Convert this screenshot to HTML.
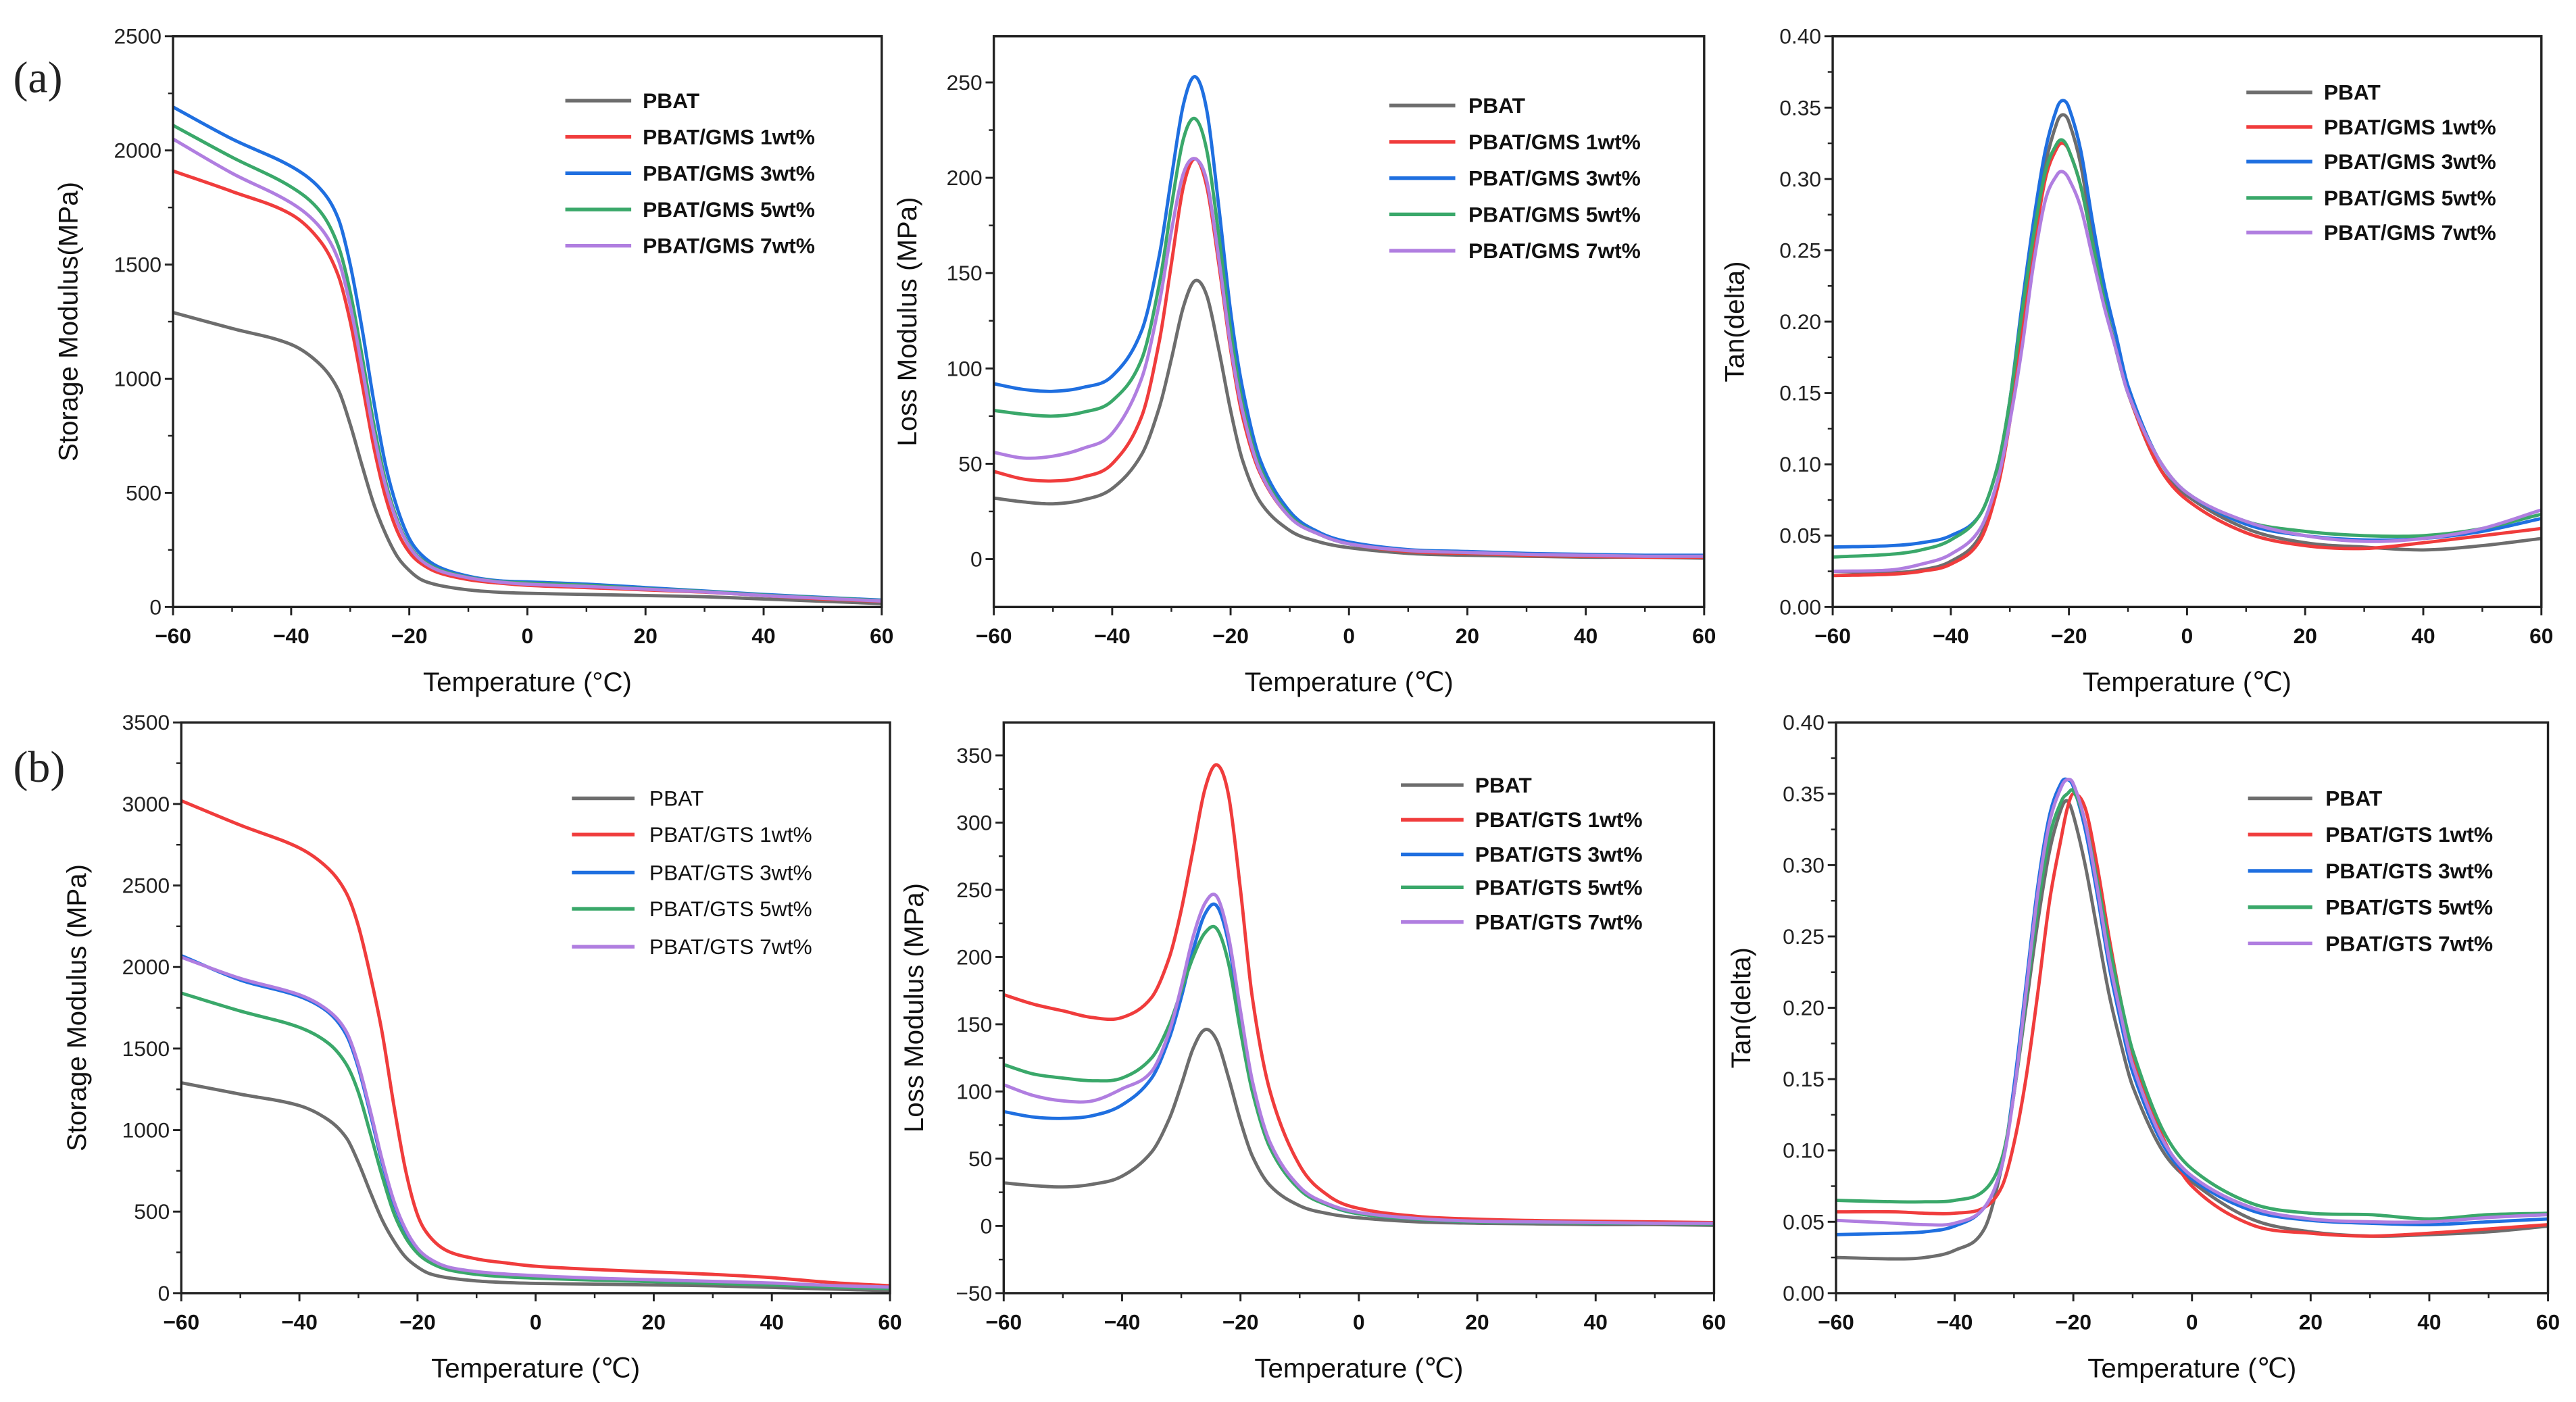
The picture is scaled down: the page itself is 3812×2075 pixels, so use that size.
<!DOCTYPE html>
<html><head><meta charset="utf-8"><style>
html,body{margin:0;padding:0;background:#fff;}
svg{display:block;}
text{font-family:"Liberation Sans",sans-serif;}
</style></head><body>
<svg id="fig" width="3812" height="2075" viewBox="0 0 1563 850" preserveAspectRatio="none" xmlns="http://www.w3.org/2000/svg">
<rect x="0" y="0" width="1563" height="850" fill="#fff"/>
<text x="8" y="56" font-family="Liberation Serif,serif" font-size="27" fill="#222" style="font-family:'Liberation Serif',serif">(a)</text>
<text x="8" y="474" font-size="27" fill="#222" style="font-family:'Liberation Serif',serif">(b)</text>
</svg>
<script>
const SX = [-60,-50,-40,-35,-32,-30,-28,-26,-24,-22,-20,-18,-15,-10,-5,0,10,20,30,40,50,60];
const LX = [-60,-55,-50,-45,-40,-35,-32,-30,-28,-26,-24,-22,-20,-18,-15,-10,-5,0,10,20,30,40,50,60];
const TX = [-60,-50,-45,-40,-35,-32,-30,-28,-26,-24,-22,-21,-20,-18,-16,-14,-12,-10,-5,0,10,20,30,40,50,60];

const a1_pbat = [1290,1220,1150,1060,950,800,620,450,320,220,160,120,95,75,65,60,55,50,45,35,25,15];
const a1_1 = [1910,1820,1720,1600,1450,1250,980,700,480,330,240,190,150,120,105,95,85,75,65,50,35,25];
const a1_3 = [2190,2050,1930,1830,1700,1500,1220,900,620,430,300,230,175,135,115,110,100,85,70,55,42,30];
const a1_5 = [2110,1970,1840,1730,1580,1380,1100,800,550,380,270,210,165,130,112,105,95,80,68,52,40,28];
const a1_7 = [2050,1900,1770,1660,1520,1320,1050,760,530,370,265,205,160,128,110,100,90,78,66,50,38,26];

const a2_pbat = [32,30,29,31,37,55,80,105,132,146,138,110,78,52,30,15,9,6,3,2,1.5,1,1,0.5];
const a2_1 = [46,42,41,43,50,75,115,155,195,210,195,155,110,75,45,22,13,8,4,3,2,1.5,1,1];
const a2_3 = [92,89,88,90,96,120,160,200,238,253,235,185,130,90,52,25,14,9,5,4,3,2.5,2,2];
const a2_5 = [78,76,75,77,83,105,145,185,220,231,214,170,120,82,48,23,13,8,4.5,3.5,2.5,2,1.5,1.5];
const a2_7 = [56,53,54,58,66,95,135,172,202,210,198,158,112,78,46,22,13,8,4.5,3.5,2.5,2,1.5,1.5];

const a3_pbat = [.025,.024,.026,.032,.05,.09,.14,.20,.26,.31,.34,.345,.34,.31,.26,.215,.18,.15,.10,.078,.055,.045,.042,.04,.043,.048];
const a3_1 = [.022,.023,.025,.03,.047,.085,.13,.19,.25,.30,.322,.325,.32,.295,.255,.215,.18,.15,.10,.075,.052,.043,.041,.045,.05,.055];
const a3_3 = [.042,.043,.045,.05,.065,.10,.145,.21,.27,.32,.35,.355,.35,.32,.27,.225,.19,.155,.105,.08,.058,.05,.047,.048,.053,.062];
const a3_5 = [.035,.037,.04,.047,.065,.10,.145,.205,.26,.305,.325,.327,.32,.295,.255,.215,.18,.15,.105,.08,.06,.053,.05,.05,.055,.065];
const a3_7 = [.025,.026,.03,.037,.055,.09,.13,.18,.24,.285,.303,.305,.30,.28,.245,.21,.18,.15,.105,.08,.06,.05,.046,.048,.055,.068];

const b1_pbat = [1290,1220,1150,1060,950,800,620,450,320,220,160,120,95,75,65,60,55,50,45,35,25,15];
const b1_1 = [3020,2870,2730,2600,2450,2250,1950,1600,1150,750,480,350,260,210,185,165,145,130,115,95,65,45];
const b1_3 = [2070,1920,1820,1720,1580,1380,1100,800,550,380,270,210,160,130,115,105,90,80,70,60,45,35];
const b1_5 = [1840,1730,1630,1530,1400,1230,980,720,490,340,245,190,145,115,100,92,80,70,60,50,38,28];
const b1_7 = [2060,1930,1830,1730,1600,1400,1120,820,565,390,275,212,162,132,117,107,92,82,72,62,47,37];

const b2_pbat = [32,30,29,31,37,55,80,105,132,146,138,110,78,52,30,15,9,6,3,2,1.5,1,1,0.5];
const b2_1 = [172,165,160,155,155,170,200,235,280,325,343,320,250,170,100,45,22,13,7,5,4,3.5,3,2.5];
const b2_3 = [85,81,80,82,90,110,140,170,205,232,238,210,155,105,60,28,15,9,5,3,2.5,2,2,1.5];
const b2_5 = [120,113,110,108,110,125,150,175,200,218,221,195,145,100,58,27,15,9,5,3,2.5,2,2,1.5];
const b2_7 = [105,97,93,93,102,115,145,178,215,240,245,215,160,108,62,29,16,10,5.5,3.5,3,2.5,2,2];

const b3_pbat = [.025,.024,.025,.03,.045,.09,.14,.20,.26,.31,.34,.345,.335,.30,.255,.21,.175,.145,.10,.078,.052,.043,.040,.041,.043,.047];
const b3_1 = [.057,.057,.056,.056,.06,.075,.105,.15,.21,.275,.32,.34,.35,.34,.30,.25,.205,.165,.11,.075,.048,.042,.040,.042,.045,.048];
const b3_3 = [.041,.042,.043,.047,.06,.09,.145,.215,.285,.335,.358,.36,.355,.325,.28,.23,.19,.155,.105,.08,.058,.051,.049,.048,.05,.052];
const b3_5 = [.065,.064,.064,.065,.072,.095,.14,.205,.27,.32,.345,.35,.352,.33,.29,.245,.205,.17,.115,.087,.063,.056,.055,.052,.055,.056];
const b3_7 = [.051,.049,.048,.049,.06,.09,.14,.21,.28,.33,.355,.36,.357,.33,.285,.235,.195,.16,.108,.082,.06,.052,.05,.05,.053,.055];

const xTicks = [-60,-40,-20,0,20,40,60];
const seriesNamesGMS = ["PBAT","PBAT/GMS 1wt%","PBAT/GMS 3wt%","PBAT/GMS 5wt%","PBAT/GMS 7wt%"];
const seriesNamesGTS = ["PBAT","PBAT/GTS 1wt%","PBAT/GTS 3wt%","PBAT/GTS 5wt%","PBAT/GTS 7wt%"];
const COLORS = ["#6d6d6d","#f03c3c","#1f6fe0","#3aa86a","#b07ee0"];

const NS = "http://www.w3.org/2000/svg";
const svg = document.getElementById('fig');
function mk(tag, attrs, parent){const e=document.createElementNS(NS,tag);for(const k in attrs)e.setAttribute(k,attrs[k]);(parent||svg).appendChild(e);return e;}

const panels = [
 {id:'a1',L:105,R:535,T:22,B:368,ymin:0,ymax:2500,step:500,dec:0,title:'Storage Modulus(MPa)',xt:'Temperature (°C)',tx:47,xs:SX,ser:[a1_pbat,a1_1,a1_3,a1_5,a1_7],names:seriesNamesGMS,leg:{x1:343,x2:383,tx:390,ys:[61,83,105,127,149]},bold:true},
 {id:'a2',L:603,R:1034,T:22,B:368,ymin:-25.1,ymax:274.2,step:50,tmin:0,tmax:250,dec:0,title:'Loss Modulus (MPa)',xt:'Temperature (℃)',tx:556,xs:LX,ser:[a2_pbat,a2_1,a2_3,a2_5,a2_7],names:seriesNamesGMS,leg:{x1:843,x2:883,tx:891,ys:[64,86,108,130,152]},bold:true},
 {id:'a3',L:1112,R:1542,T:22,B:368,ymin:0,ymax:0.4,step:0.05,dec:2,title:'Tan(delta)',xt:'Temperature (℃)',tx:1058,xs:TX,ser:[a3_pbat,a3_1,a3_3,a3_5,a3_7],names:seriesNamesGMS,leg:{x1:1363,x2:1403,tx:1410,ys:[56,77,98,120,141]},bold:true},
 {id:'b1',L:110,R:540,T:438,B:784,ymin:0,ymax:3500,step:500,dec:0,title:'Storage Modulus (MPa)',xt:'Temperature (℃)',tx:52,xs:SX,ser:[b1_pbat,b1_1,b1_3,b1_5,b1_7],names:seriesNamesGTS,leg:{x1:347,x2:385,tx:394,ys:[484,506,529,551,574]},bold:false},
 {id:'b2',L:609,R:1040,T:438,B:784,ymin:-50,ymax:374.5,step:50,tmin:-50,tmax:350,dec:0,title:'Loss Modulus (MPa)',xt:'Temperature (℃)',tx:560,xs:LX,ser:[b2_pbat,b2_1,b2_3,b2_5,b2_7],names:seriesNamesGTS,leg:{x1:850,x2:888,tx:895,ys:[476,497,518,538,559]},bold:true},
 {id:'b3',L:1114,R:1546,T:438,B:784,ymin:0,ymax:0.4,step:0.05,dec:2,title:'Tan(delta)',xt:'Temperature (℃)',tx:1062,xs:TX,ser:[b3_pbat,b3_1,b3_3,b3_5,b3_7],names:seriesNamesGTS,leg:{x1:1364,x2:1403,tx:1411,ys:[484,506,528,550,572]},bold:true}
];

function smoothPath(pts){
  let d='M'+pts[0][0].toFixed(2)+','+pts[0][1].toFixed(2);
  for(let i=0;i<pts.length-1;i++){
    const p0=pts[Math.max(0,i-1)],p1=pts[i],p2=pts[i+1],p3=pts[Math.min(pts.length-1,i+2)];
    const h=p2[0]-p1[0];
    const m1=(p2[1]-p0[1])/(p2[0]-p0[0]||1), m2=(p3[1]-p1[1])/(p3[0]-p1[0]||1);
    const c1=[p1[0]+h/3,p1[1]+m1*h/3], c2=[p2[0]-h/3,p2[1]-m2*h/3];
    d+=' C'+c1[0].toFixed(2)+','+c1[1].toFixed(2)+' '+c2[0].toFixed(2)+','+c2[1].toFixed(2)+' '+p2[0].toFixed(2)+','+p2[1].toFixed(2);
  }
  return d;
}

panels.forEach(p=>{
  const g=mk('g',{});
  
  
  const xs=v=>p.L+(v+60)/120*(p.R-p.L);
  const ys=v=>p.B-(v-p.ymin)/(p.ymax-p.ymin)*(p.B-p.T);
  const clip=mk('clipPath',{id:'clip-'+p.id},g);
  mk('rect',{x:p.L,y:p.T,width:p.R-p.L,height:p.B-p.T},clip);
  // series
  const sg=mk('g',{'clip-path':'url(#clip-'+p.id+')'},g);
  p.ser.forEach((arr,si)=>{
    const pts=arr.map((v,i)=>[xs(p.xs[i]),ys(v)]);
    const path=mk('path',{d:smoothPath(pts),fill:'none',stroke:COLORS[si],'stroke-width':2,'stroke-linejoin':'round'},sg);
    
    
  });
  // frame
  const fr=mk('rect',{x:p.L,y:p.T,width:p.R-p.L,height:p.B-p.T,fill:'none',stroke:'#222','stroke-width':1.4},g);
  
  
  // x ticks
  xTicks.forEach(t=>{
    const x=xs(t);
    mk('line',{x1:x,y1:p.B,x2:x,y2:p.B+5,stroke:'#222','stroke-width':1.2},g);
    const tl=mk('text',{x:x,y:p.B+22,'text-anchor':'middle','font-size':13,'font-weight':'bold',fill:'#111'},g);
    tl.textContent=(t<0?'−'+(-t):String(t));
    
    
  });
  for(let t=-50;t<60;t+=20){const x=xs(t);mk('line',{x1:x,y1:p.B,x2:x,y2:p.B+3,stroke:'#222','stroke-width':1},g);}
  // y ticks
  const tmin=p.tmin!==undefined?p.tmin:p.ymin, tmax=p.tmax!==undefined?p.tmax:p.ymax;
  const n=Math.round((tmax-tmin)/p.step);
  for(let i=0;i<=n;i++){
    const v=tmin+i*p.step, y=ys(v);
    mk('line',{x1:p.L-5,y1:y,x2:p.L,y2:y,stroke:'#222','stroke-width':1.2},g);
    const tl=mk('text',{x:p.L-7,y:y+4.5,'text-anchor':'end','font-size':13,fill:'#222'},g);
    tl.textContent=v.toFixed(p.dec).replace('-','−');
    
    
    if(i<n){const ym=ys(v+p.step/2);mk('line',{x1:p.L-3,y1:ym,x2:p.L,y2:ym,stroke:'#222','stroke-width':1},g);}
  }
  // titles
  const xt=mk('text',{x:(p.L+p.R)/2,y:p.B+51,'text-anchor':'middle','font-size':16.5,fill:'#111'},g);
  xt.textContent=p.xt;
  
  
  const cy=(p.T+p.B)/2;
  const yt=mk('text',{x:p.tx,y:cy,'text-anchor':'middle','font-size':16.5,fill:'#111',transform:'rotate(-90 '+p.tx+' '+cy+')'},g);
  yt.textContent=p.title;
  
  
  // legend
  p.names.forEach((nm,si)=>{
    const y=p.leg.ys[si];
    const ln=mk('line',{x1:p.leg.x1,y1:y,x2:p.leg.x2,y2:y,stroke:COLORS[si],'stroke-width':2.2},g);
    
    
    const lt=mk('text',{x:p.leg.tx,y:y+4.5,'font-size':13,'font-weight':p.bold?'bold':'normal',fill:'#111'},g);
    lt.textContent=nm;
    
    
  });
});
</script>
</body></html>
